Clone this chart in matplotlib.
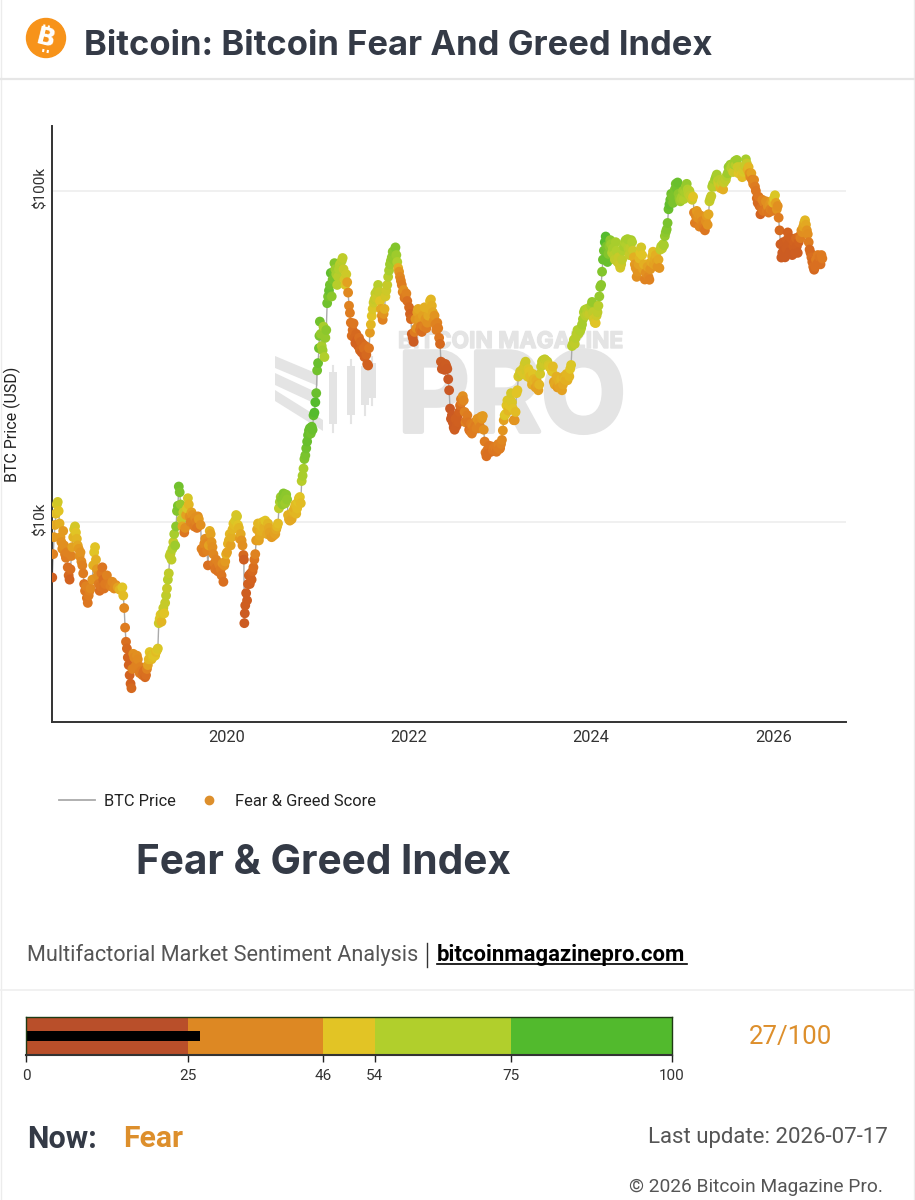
import matplotlib
matplotlib.use("Agg")
import matplotlib.pyplot as plt
import matplotlib.patheffects as pe
from matplotlib.colors import LinearSegmentedColormap
from matplotlib.patches import Circle, Polygon, Rectangle
from matplotlib.transforms import ScaledTranslation

plt.rcParams['font.family'] = ['Roboto', 'DejaVu Sans']

# date (decimal year), BTC price (USD), fear & greed score
dates_2018 = [2018.08, 2018.09, 2018.10, 2018.11, 2018.12, 2018.13, 2018.14, 2018.15, 2018.16, 2018.17,
              2018.18, 2018.19, 2018.20, 2018.21, 2018.22, 2018.23, 2018.24, 2018.25, 2018.26, 2018.27,
              2018.28, 2018.29, 2018.30, 2018.31, 2018.32, 2018.33, 2018.34, 2018.35, 2018.36, 2018.37,
              2018.38, 2018.39, 2018.40, 2018.41, 2018.42, 2018.43, 2018.44, 2018.45, 2018.46, 2018.47,
              2018.48, 2018.49, 2018.50, 2018.52, 2018.53, 2018.54, 2018.55, 2018.56, 2018.57, 2018.58,
              2018.59, 2018.60, 2018.61, 2018.62, 2018.63, 2018.64, 2018.65, 2018.66, 2018.68, 2018.70,
              2018.72, 2018.74, 2018.76, 2018.78, 2018.80, 2018.82, 2018.85, 2018.86, 2018.87, 2018.88,
              2018.89, 2018.90, 2018.91, 2018.92, 2018.93, 2018.94, 2018.95, 2018.96, 2018.97, 2018.98]
prices_2018 = [6800, 8000, 9000, 9800, 10600, 11300, 11500, 10800, 9900, 9000,
               8700, 8300, 9400, 8500, 8000, 7800, 8100, 7300, 6900, 6700,
               7200, 7900, 8400, 9000, 9500, 9700, 9300, 8900, 8500, 8300,
               7900, 8100, 7600, 7400, 7000, 6500, 6200, 6400, 5900, 5700,
               6000, 6200, 6300, 6700, 7400, 8100, 8400, 7700, 7200, 6900,
               6500, 6200, 6400, 7000, 7300, 6700, 6300, 6500, 6900, 6500,
               6400, 6600, 6300, 6450, 6350, 6250, 6350, 6000, 5500, 4800,
               4350, 4150, 3900, 3700, 3450, 3250, 3150, 3600, 4000, 3900]
scores_2018 = [18, 30, 38, 42, 48, 52, 55, 50, 44, 38,
               35, 33, 38, 34, 30, 28, 30, 24, 22, 20,
               24, 30, 40, 45, 52, 54, 50, 46, 42, 38,
               34, 36, 33, 30, 28, 25, 26, 30, 26, 26,
               28, 29, 32, 36, 44, 50, 50, 44, 38, 34,
               28, 24, 26, 27, 26, 24, 25, 27, 30, 28,
               30, 33, 33, 34, 40, 45, 50, 48, 32, 28,
               24, 22, 21, 20, 20, 20, 22, 30, 34, 32]

dates_2019 = [2019.00, 2019.01, 2019.02, 2019.03, 2019.04, 2019.05, 2019.06, 2019.07, 2019.08, 2019.09,
              2019.10, 2019.11, 2019.12, 2019.13, 2019.14, 2019.15, 2019.16, 2019.17, 2019.18, 2019.19,
              2019.20, 2019.21, 2019.22, 2019.23, 2019.24, 2019.25, 2019.26, 2019.27, 2019.28, 2019.29,
              2019.30, 2019.31, 2019.32, 2019.33, 2019.34, 2019.35, 2019.36, 2019.37, 2019.38, 2019.39,
              2019.40, 2019.41, 2019.42, 2019.43, 2019.44, 2019.45, 2019.46, 2019.47, 2019.48, 2019.49,
              2019.50, 2019.51, 2019.52, 2019.53, 2019.54, 2019.55, 2019.56, 2019.57, 2019.58, 2019.59,
              2019.60, 2019.61, 2019.62, 2019.63, 2019.64, 2019.65, 2019.66, 2019.67, 2019.68, 2019.69,
              2019.71, 2019.72, 2019.74, 2019.75, 2019.76, 2019.77, 2019.78, 2019.79, 2019.80, 2019.81,
              2019.82, 2019.83, 2019.84, 2019.85, 2019.86, 2019.87, 2019.88, 2019.89, 2019.90, 2019.91,
              2019.92, 2019.93, 2019.94, 2019.95, 2019.96, 2019.97, 2019.98, 2019.99]
prices_2019 = [3700, 3950, 3850, 3600, 3500, 3650, 3550, 3450, 3500, 3550,
               3400, 3450, 3600, 3700, 3850, 4050, 3950, 3850, 3900, 3950,
               4000, 3950, 4050, 4100, 4150, 4950, 5100, 5250, 5000, 5300,
               5500, 5300, 5700, 6000, 6300, 6700, 7000, 7900, 8050, 7700,
               8300, 8700, 9200, 8500, 9700, 10800, 11200, 12800, 12300, 11300,
               10200, 9700, 10700, 9300, 9600, 10500, 11000, 11800, 11300, 10400,
               10000, 10700, 10500, 10100, 9700, 10300, 10000, 9600, 10400, 10200,
               9800, 8300, 8100, 8600, 8900, 8600, 8200, 7400, 8500, 9400,
               9200, 8700, 8400, 8000, 7500, 7200, 7700, 7300, 7100, 7500,
               7400, 7200, 6900, 7500, 6600, 7400, 7600, 8000]
scores_2019 = [30, 34, 33, 30, 28, 30, 28, 26, 24, 24,
               22, 24, 30, 40, 46, 50, 48, 46, 48, 50,
               52, 50, 48, 50, 52, 56, 52, 50, 46, 54,
               58, 50, 58, 60, 58, 62, 60, 62, 60, 60,
               64, 58, 66, 68, 72, 74, 76, 78, 76, 70,
               58, 42, 58, 26, 34, 40, 52, 54, 46, 34,
               30, 40, 36, 30, 28, 34, 30, 26, 34, 38,
               34, 30, 28, 32, 34, 32, 30, 24, 40, 44,
               40, 36, 34, 32, 28, 26, 30, 26, 25, 30,
               30, 28, 26, 36, 24, 34, 38, 44]

dates_2020 = [2020.00, 2020.01, 2020.02, 2020.03, 2020.04, 2020.05, 2020.06, 2020.07, 2020.08, 2020.09,
              2020.10, 2020.11, 2020.12, 2020.13, 2020.14, 2020.15, 2020.16, 2020.17, 2020.18, 2020.185,
              2020.19, 2020.195, 2020.20, 2020.21, 2020.22, 2020.23, 2020.24, 2020.25, 2020.26, 2020.27,
              2020.28, 2020.29, 2020.30, 2020.31, 2020.32, 2020.33, 2020.34, 2020.35, 2020.36, 2020.37,
              2020.38, 2020.39, 2020.40, 2020.41, 2020.42, 2020.43, 2020.44, 2020.45, 2020.46, 2020.47,
              2020.48, 2020.49, 2020.50, 2020.51, 2020.52, 2020.53, 2020.54, 2020.55, 2020.56, 2020.57,
              2020.58, 2020.59, 2020.60, 2020.61, 2020.62, 2020.63, 2020.64, 2020.65, 2020.66, 2020.67,
              2020.68, 2020.69, 2020.70, 2020.71, 2020.72, 2020.73, 2020.74, 2020.75, 2020.76, 2020.77,
              2020.78, 2020.79, 2020.80, 2020.81, 2020.82, 2020.83, 2020.84, 2020.85, 2020.86, 2020.87,
              2020.88, 2020.89, 2020.90, 2020.91, 2020.92, 2020.93, 2020.94, 2020.95, 2020.96, 2020.97,
              2020.98, 2020.99]
prices_2020 = [8100, 8600, 8800, 9200, 8500, 9000, 9500, 9900, 9800, 10100,
               10500, 10400, 9800, 9600, 8900, 9200, 8800, 8500, 7950, 7700,
               4950, 5300, 5600, 6100, 5800, 6500, 6900, 6500, 7000, 6700,
               7100, 7300, 7700, 8000, 8800, 9500, 9900, 8800, 9100, 9400,
               9700, 10000, 9800, 9600, 10100, 9500, 9200, 9900, 9600, 9300,
               9100, 9000, 9200, 9100, 9300, 9200, 9500, 9700, 9900, 11000,
               11500, 11900, 11700, 11300, 12200, 11800, 11400, 12100, 11700, 10500,
               10200, 10100, 10500, 10200, 10700, 10800, 11000, 11300, 10600, 11000,
               11500, 11800, 11900, 11400, 13300, 13800, 14500, 15500, 15900, 16700,
               17500, 18300, 18900, 19200, 18500, 19400, 19000, 21000, 21400, 23000,
               24500, 28700]
scores_2020 = [40, 44, 44, 46, 40, 44, 46, 50, 48, 52,
               52, 54, 50, 46, 38, 42, 36, 34, 22, 16,
               14, 14, 16, 16, 16, 18, 18, 18, 20, 20,
               22, 24, 26, 30, 38, 42, 46, 40, 42, 44,
               46, 48, 46, 44, 50, 44, 42, 46, 42, 40,
               40, 38, 40, 38, 40, 40, 42, 46, 48, 60,
               66, 68, 72, 70, 74, 72, 68, 72, 70, 44,
               44, 42, 44, 42, 44, 46, 44, 48, 46, 48,
               50, 48, 50, 48, 62, 66, 66, 74, 76, 78,
               80, 80, 80, 80, 78, 80, 80, 82, 84, 84,
               80, 78]

dates_2021 = [2021.00, 2021.01, 2021.015, 2021.02, 2021.03, 2021.04, 2021.05, 2021.06, 2021.07, 2021.08,
              2021.09, 2021.10, 2021.11, 2021.12, 2021.13, 2021.14, 2021.15, 2021.16, 2021.17, 2021.18,
              2021.19, 2021.20, 2021.21, 2021.22, 2021.23, 2021.24, 2021.25, 2021.26, 2021.27, 2021.28,
              2021.29, 2021.30, 2021.31, 2021.32, 2021.33, 2021.34, 2021.35, 2021.36, 2021.37, 2021.38,
              2021.39, 2021.40, 2021.41, 2021.42, 2021.43, 2021.44, 2021.45, 2021.46, 2021.47, 2021.48,
              2021.49, 2021.50, 2021.51, 2021.52, 2021.53, 2021.54, 2021.55, 2021.56, 2021.57, 2021.58,
              2021.59, 2021.60, 2021.61, 2021.62, 2021.63, 2021.64, 2021.65, 2021.66, 2021.67, 2021.68,
              2021.69, 2021.70, 2021.71, 2021.72, 2021.73, 2021.74, 2021.75, 2021.76, 2021.77, 2021.78,
              2021.79, 2021.80, 2021.81, 2021.82, 2021.83, 2021.84, 2021.85, 2021.86, 2021.87, 2021.88,
              2021.89, 2021.90, 2021.91, 2021.92, 2021.93, 2021.94, 2021.95, 2021.96, 2021.97, 2021.98]
prices_2021 = [30200, 33500, 36500, 40300, 37000, 34000, 33000, 38900, 31500, 36000,
               38000, 45800, 48000, 50000, 52000, 56500, 48000, 54000, 57000, 60500,
               58000, 56000, 52000, 55000, 58000, 60000, 59000, 61500, 62700, 58000,
               54000, 52000, 56000, 53000, 49300, 45000, 42800, 40000, 36500, 38000,
               39800, 36000, 34700, 37000, 35500, 34000, 36000, 33000, 35000, 32500,
               34500, 33500, 31500, 34000, 32000, 30000, 29700, 33500, 37300, 39500,
               41900, 44000, 46000, 47000, 49000, 47500, 50000, 52000, 49500, 46500,
               44000, 42000, 40800, 42500, 44000, 48000, 50000, 52000, 55000, 57500,
               60000, 61500, 63000, 65500, 62000, 66000, 67500, 64000, 61000, 58500,
               57000, 55000, 53500, 52000, 49500, 50200, 47500, 48000, 49000, 46500]
scores_2021 = [80, 78, 76, 78, 70, 66, 68, 66, 64, 70,
               72, 78, 76, 80, 78, 82, 72, 76, 78, 74,
               68, 66, 62, 62, 64, 62, 64, 62, 60, 58,
               54, 52, 56, 40, 32, 30, 28, 26, 24, 24,
               26, 22, 20, 22, 20, 20, 24, 22, 22, 20,
               22, 24, 20, 24, 22, 20, 18, 26, 38, 46,
               50, 52, 56, 58, 60, 56, 60, 62, 58, 50,
               42, 34, 30, 36, 44, 54, 56, 58, 62, 66,
               68, 68, 70, 72, 70, 72, 74, 68, 64, 44,
               36, 32, 30, 28, 30, 34, 26, 28, 30, 24]

dates_2022 = [2022.00, 2022.01, 2022.02, 2022.03, 2022.04, 2022.05, 2022.06, 2022.07, 2022.08, 2022.09,
              2022.10, 2022.11, 2022.12, 2022.13, 2022.14, 2022.15, 2022.16, 2022.17, 2022.18, 2022.19,
              2022.20, 2022.21, 2022.22, 2022.23, 2022.24, 2022.25, 2022.26, 2022.27, 2022.28, 2022.29,
              2022.30, 2022.31, 2022.32, 2022.33, 2022.34, 2022.35, 2022.36, 2022.37, 2022.38, 2022.39,
              2022.40, 2022.41, 2022.42, 2022.43, 2022.44, 2022.45, 2022.46, 2022.47, 2022.48, 2022.49,
              2022.50, 2022.51, 2022.52, 2022.53, 2022.54, 2022.55, 2022.56, 2022.57, 2022.58, 2022.59,
              2022.60, 2022.61, 2022.62, 2022.63, 2022.64, 2022.65, 2022.66, 2022.67, 2022.68, 2022.69,
              2022.70, 2022.71, 2022.72, 2022.73, 2022.74, 2022.75, 2022.76, 2022.77, 2022.78, 2022.79,
              2022.80, 2022.81, 2022.82, 2022.83, 2022.84, 2022.85, 2022.86, 2022.87, 2022.88, 2022.89,
              2022.90, 2022.91, 2022.92, 2022.93, 2022.94, 2022.95, 2022.96, 2022.97, 2022.98, 2022.99]
prices_2022 = [44500, 42500, 41000, 37000, 36000, 35000, 37500, 41000, 38500, 43000,
               44000, 41000, 38000, 39000, 37500, 42000, 39000, 44500, 41000, 38500,
               40000, 42000, 44000, 46500, 47000, 45000, 43000, 40500, 42000, 39500,
               38000, 40000, 38500, 36000, 34500, 30500, 29000, 30200, 29500, 28800,
               30000, 29500, 29000, 27000, 25000, 22000, 20500, 21000, 20000, 19300,
               19000, 20500, 19500, 20800, 20000, 21500, 22500, 23500, 23000, 24000,
               23300, 21500, 20000, 20300, 21000, 20000, 19000, 18800, 19800, 18500,
               19500, 19000, 20000, 19500, 19200, 20500, 19200, 20000, 19400, 20800,
               20500, 20900, 19000, 17500, 16200, 15800, 16500, 16200, 17000, 16800,
               16300, 16900, 16500, 16800, 16400, 16700, 16300, 16800, 17200, 16600]
scores_2022 = [22, 20, 22, 18, 16, 14, 28, 36, 34, 40,
               42, 38, 26, 28, 24, 40, 30, 44, 36, 28,
               34, 42, 44, 48, 46, 44, 42, 34, 36, 30,
               28, 30, 28, 26, 22, 14, 12, 14, 12, 12,
               14, 14, 12, 10, 10, 10, 12, 12, 14, 14,
               16, 18, 16, 18, 18, 20, 24, 28, 28, 34,
               32, 30, 30, 26, 28, 26, 24, 26, 28, 28,
               30, 28, 30, 28, 30, 36, 30, 34, 30, 36,
               36, 38, 34, 28, 26, 24, 26, 24, 26, 26,
               24, 26, 26, 28, 26, 28, 26, 28, 30, 28]

dates_2023 = [2023.00, 2023.01, 2023.02, 2023.03, 2023.04, 2023.05, 2023.06, 2023.07, 2023.08, 2023.09,
              2023.10, 2023.11, 2023.12, 2023.13, 2023.14, 2023.15, 2023.16, 2023.17, 2023.18, 2023.19,
              2023.20, 2023.21, 2023.22, 2023.23, 2023.24, 2023.25, 2023.26, 2023.27, 2023.28, 2023.29,
              2023.30, 2023.31, 2023.32, 2023.33, 2023.34, 2023.35, 2023.36, 2023.37, 2023.38, 2023.39,
              2023.40, 2023.41, 2023.42, 2023.43, 2023.44, 2023.45, 2023.46, 2023.47, 2023.48, 2023.49,
              2023.50, 2023.51, 2023.52, 2023.53, 2023.54, 2023.55, 2023.56, 2023.57, 2023.58, 2023.59,
              2023.60, 2023.61, 2023.62, 2023.63, 2023.64, 2023.65, 2023.66, 2023.67, 2023.68, 2023.69,
              2023.70, 2023.71, 2023.72, 2023.73, 2023.74, 2023.75, 2023.76, 2023.77, 2023.78, 2023.79,
              2023.80, 2023.81, 2023.82, 2023.83, 2023.84, 2023.85, 2023.86, 2023.87, 2023.88, 2023.89,
              2023.90, 2023.91, 2023.92, 2023.93, 2023.94, 2023.95, 2023.96, 2023.97, 2023.98, 2023.99]
prices_2023 = [16700, 17200, 17700, 18900, 20300, 21000, 21200, 22500, 23300, 21700,
               22500, 23500, 24500, 23000, 22000, 20300, 20300, 21500, 24500, 25000,
               27500, 27800, 28500, 28000, 28500, 29000, 28000, 30000, 30500, 28500,
               27500, 29000, 28500, 27500, 27000, 26000, 28000, 27000, 26500, 25500,
               26800, 26000, 25000, 26000, 28000, 29500, 30500, 30800, 30000, 31000,
               30800, 30000, 30500, 29800, 29500, 29300, 29000, 28500, 29500, 26500,
               26000, 26500, 27500, 25500, 25800, 26500, 25500, 27000, 25000, 26000,
               27500, 27000, 26800, 28000, 26800, 28000, 27500, 29000, 29800, 34000,
               34500, 35500, 34500, 36000, 37000, 38000, 37000, 37500, 37800, 38500,
               39500, 41000, 43000, 43700, 42000, 44000, 42500, 43500, 42500, 44500]
scores_2023 = [28, 30, 32, 36, 40, 52, 50, 50, 52, 46,
               50, 52, 54, 52, 50, 34, 36, 48, 50, 50,
               52, 54, 54, 56, 52, 54, 52, 54, 56, 54,
               52, 52, 50, 48, 48, 44, 50, 46, 46, 40,
               44, 42, 40, 46, 54, 58, 60, 58, 56, 60,
               58, 56, 58, 54, 52, 52, 50, 50, 48, 40,
               42, 42, 44, 38, 40, 44, 40, 46, 40, 42,
               44, 46, 44, 46, 44, 46, 46, 50, 52, 62,
               62, 62, 60, 62, 62, 64, 62, 62, 64, 64,
               66, 66, 64, 66, 62, 64, 60, 62, 58, 62]

dates_2024 = [2024.00, 2024.01, 2024.02, 2024.03, 2024.04, 2024.05, 2024.06, 2024.07, 2024.08, 2024.09,
              2024.10, 2024.11, 2024.12, 2024.13, 2024.14, 2024.15, 2024.16, 2024.17, 2024.18, 2024.19,
              2024.20, 2024.21, 2024.22, 2024.23, 2024.24, 2024.25, 2024.26, 2024.27, 2024.28, 2024.29,
              2024.30, 2024.31, 2024.32, 2024.33, 2024.34, 2024.35, 2024.36, 2024.37, 2024.38, 2024.39,
              2024.40, 2024.41, 2024.42, 2024.43, 2024.44, 2024.45, 2024.46, 2024.47, 2024.48, 2024.49,
              2024.50, 2024.51, 2024.52, 2024.53, 2024.54, 2024.55, 2024.56, 2024.57, 2024.58, 2024.59,
              2024.60, 2024.61, 2024.62, 2024.63, 2024.64, 2024.65, 2024.66, 2024.67, 2024.68, 2024.69,
              2024.70, 2024.71, 2024.72, 2024.73, 2024.74, 2024.75, 2024.76, 2024.77, 2024.78, 2024.79,
              2024.80, 2024.81, 2024.82, 2024.83, 2024.84, 2024.85, 2024.86, 2024.87, 2024.88, 2024.89,
              2024.90, 2024.91, 2024.92, 2024.93, 2024.94, 2024.95, 2024.96, 2024.97, 2024.98, 2024.99]
prices_2024 = [45000, 46200, 43000, 41000, 40000, 39900, 42000, 43000, 45000, 48000,
               51300, 52000, 57000, 62000, 66000, 70000, 72800, 68000, 61000, 64500,
               68000, 71000, 69000, 65000, 67000, 64000, 62000, 70000, 66000, 61000,
               63000, 60000, 58600, 60000, 62000, 66000, 68000, 70000, 71000, 69000,
               71500, 67000, 64000, 67000, 71000, 70000, 66000, 63000, 60000, 58500,
               55000, 57000, 60000, 62500, 65000, 67500, 64000, 58000, 60000, 54000,
               56500, 60000, 59000, 55000, 53900, 58000, 61000, 63500, 65500, 60000,
               62000, 64000, 61000, 59000, 62000, 58500, 66500, 68000, 67000, 69000,
               68500, 73000, 75000, 76500, 80000, 88000, 91000, 94000, 98000, 96000,
               92000, 97000, 101000, 105000, 102000, 106000, 98000, 95000, 93000, 94500]
scores_2024 = [66, 70, 60, 54, 52, 50, 56, 60, 62, 70,
               72, 72, 74, 80, 78, 84, 84, 76, 80, 74,
               72, 72, 68, 64, 66, 62, 60, 66, 64, 58,
               58, 56, 54, 56, 60, 64, 66, 64, 66, 64,
               66, 62, 58, 60, 66, 64, 56, 44, 38, 36,
               34, 36, 40, 46, 50, 54, 50, 40, 44, 30,
               34, 44, 40, 32, 30, 36, 42, 46, 48, 40,
               42, 44, 40, 36, 42, 36, 60, 62, 60, 64,
               66, 70, 72, 74, 76, 80, 82, 80, 78, 76,
               76, 76, 76, 78, 78, 80, 72, 70, 68, 66]

dates_2025 = [2025.00, 2025.01, 2025.02, 2025.03, 2025.04, 2025.05, 2025.06, 2025.07, 2025.08, 2025.09,
              2025.10, 2025.11, 2025.12, 2025.13, 2025.14, 2025.15, 2025.16, 2025.17, 2025.18, 2025.19,
              2025.20, 2025.21, 2025.22, 2025.23, 2025.24, 2025.25, 2025.26, 2025.27, 2025.28, 2025.29,
              2025.30, 2025.31, 2025.32, 2025.33, 2025.34, 2025.35, 2025.36, 2025.37, 2025.38, 2025.39,
              2025.40, 2025.41, 2025.42, 2025.43, 2025.44, 2025.45, 2025.46, 2025.47, 2025.48, 2025.49,
              2025.50, 2025.51, 2025.52, 2025.53, 2025.54, 2025.55, 2025.56, 2025.57, 2025.58, 2025.59,
              2025.60, 2025.61, 2025.62, 2025.63, 2025.64, 2025.65, 2025.66, 2025.67, 2025.68, 2025.69,
              2025.70, 2025.71, 2025.72, 2025.73, 2025.74, 2025.75, 2025.76, 2025.77, 2025.78, 2025.79,
              2025.80, 2025.81, 2025.82, 2025.83, 2025.84, 2025.85, 2025.86, 2025.87, 2025.88, 2025.89,
              2025.90, 2025.91, 2025.92, 2025.93, 2025.94, 2025.95, 2025.96, 2025.97, 2025.98, 2025.99]
prices_2025 = [96000, 100000, 94500, 99000, 103000, 105000, 101000, 98000, 100000, 96500,
               97000, 94000, 96000, 86000, 80000, 84000, 87000, 83000, 85000, 78000,
               82000, 84000, 81000, 79000, 77000, 76000, 81000, 84000, 79000, 85000,
               93000, 95000, 96500, 103000, 105000, 103000, 108000, 110000, 112000, 107000,
               105000, 108000, 102000, 105000, 107000, 101000, 106000, 109000, 108000, 111000,
               113000, 118000, 116000, 120000, 117000, 119000, 114000, 120000, 123000, 120000,
               124000, 118000, 113000, 116000, 118000, 112000, 110000, 114000, 116000, 119000,
               124500, 121000, 116000, 118000, 113000, 110000, 113000, 108000, 105000, 108000,
               103000, 100000, 95000, 92000, 96000, 90000, 85000, 89000, 94000, 87000,
               92000, 88000, 93000, 87000, 90000, 86000, 91000, 88000, 93000, 87000]
scores_2025 = [66, 68, 64, 66, 70, 70, 64, 62, 62, 58,
               60, 56, 50, 30, 28, 32, 38, 34, 36, 30,
               34, 36, 32, 30, 28, 26, 34, 38, 36, 42,
               58, 60, 58, 64, 66, 62, 66, 68, 66, 60,
               56, 62, 46, 56, 60, 44, 58, 62, 60, 64,
               68, 70, 68, 68, 62, 64, 56, 66, 68, 62,
               68, 56, 50, 54, 56, 50, 48, 52, 54, 58,
               66, 58, 44, 46, 36, 32, 40, 30, 30, 32,
               28, 26, 24, 22, 26, 22, 20, 24, 30, 26,
               30, 26, 34, 28, 34, 26, 36, 30, 38, 28]

dates_2026 = [2026.00, 2026.01, 2026.02, 2026.03, 2026.04, 2026.05, 2026.06, 2026.07, 2026.08, 2026.09,
              2026.10, 2026.11, 2026.12, 2026.13, 2026.14, 2026.15, 2026.16, 2026.17, 2026.18, 2026.19,
              2026.20, 2026.21, 2026.22, 2026.23, 2026.24, 2026.25, 2026.26, 2026.27, 2026.28, 2026.29,
              2026.30, 2026.31, 2026.32, 2026.33, 2026.34, 2026.35, 2026.36, 2026.37, 2026.38, 2026.39,
              2026.40, 2026.41, 2026.42, 2026.43, 2026.44, 2026.45, 2026.46, 2026.47, 2026.48, 2026.49,
              2026.50, 2026.51, 2026.52, 2026.53, 2026.54]
prices_2026 = [92000, 95000, 97000, 92000, 88000, 90000, 83000, 76000, 69000, 62900,
               65000, 70000, 66000, 63000, 67000, 71000, 74900, 69000, 65000, 72000,
               66000, 64000, 68000, 70000, 65000, 72000, 68000, 65000, 70000, 73000,
               72000, 76000, 75000, 78000, 80000, 81500, 79000, 76000, 74000, 70000,
               66500, 65000, 63000, 61000, 59000, 57800, 59000, 62000, 60000, 64000,
               61000, 63000, 60000, 64000, 62500]
scores_2026 = [44, 50, 52, 40, 36, 34, 28, 22, 16, 14,
               14, 16, 14, 14, 16, 18, 20, 16, 14, 18,
               14, 14, 18, 20, 16, 22, 18, 16, 20, 24,
               28, 36, 34, 40, 42, 46, 42, 36, 34, 28,
               22, 22, 24, 22, 24, 22, 24, 28, 24, 28,
               24, 26, 24, 27, 27]

year_ticks = [2020, 2022, 2024, 2026]
price_ticks = [10000, 100000]
price_tick_labels = ["$10k", "$100k"]

gauge_edges = [0, 25, 46, 54, 75, 100]
gauge_colors = ["#b94f2a", "#dd8823", "#e2c425", "#b1cf2c", "#52ba2d"]
current_score = 27

WIDTH, HEIGHT = 915, 1200
DARK = "#343a46"
ORANGE = "#dd8f2c"
WATERMARK = "#e4e4e4"


def px_axes(fig, left, top, right, bottom):
    # axes placed by pixel box, y counted from the top
    return fig.add_axes([left / WIDTH, 1 - bottom / HEIGHT, (right - left) / WIDTH, (bottom - top) / HEIGHT])


def draw_page(ax):
    ax.set_xlim(0, WIDTH)
    ax.set_ylim(HEIGHT, 0)
    ax.axis("off")

    # frame and dividers
    ax.plot([1, 1], [0, 1200], color="#ececec", lw=1)
    ax.plot([914, 914], [0, 1200], color="#ececec", lw=1)
    ax.plot([0, 915], [79, 79], color="#e6e6e6", lw=1.6)
    ax.plot([0, 915], [990, 990], color="#efefef", lw=1.2)

    # header
    ax.add_patch(Circle((46, 38), 19.5, color="#f7931a"))
    ax.text(46, 38.5, "B", color="white", fontsize=18, fontweight="bold",
            rotation=-14, ha="center", va="center", family="DejaVu Sans")
    for x0, y0, x1, y1 in [(44.5, 24.5, 44, 27), (49, 25.5, 48.5, 28), (43.5, 49, 43, 52), (48, 50, 47.5, 53)]:
        ax.plot([x0, x1], [y0, y1], color="white", lw=1.5, solid_capstyle="butt")
    ax.text(84, 46, "Bitcoin: Bitcoin Fear And Greed Index", color=DARK, fontsize=24.9,
            fontweight="bold", family="Inter", ha="left", va="center")

    # watermark
    stripes = [[(275, 356), (318, 374), (318, 386), (275, 368)],
               [(275, 373), (318, 393), (318, 405), (275, 385)],
               [(275, 390), (323, 420), (323, 431), (275, 401)]]
    for stripe in stripes:
        ax.add_patch(Polygon(stripe, color=WATERMARK, lw=0))
    # candles of the logo: x, wick top, body top, body bottom, wick bottom
    for x, wick_top, top, bottom, wick_bottom in [(333, 366, 372, 424, 432), (351, 360, 366, 415, 423),
                                                  (365, 361, 366, 405, 415), (372, 357, 363, 398, 405)]:
        ax.plot([x, x], [wick_top, wick_bottom], color=WATERMARK, lw=1.5)
        ax.add_patch(Rectangle((x - 4, top), 8, bottom - top, color=WATERMARK, lw=0))
    ax.text(398, 342, "BITCOIN MAGAZINE", color=WATERMARK, fontsize=16.4, fontweight="bold",
            family="Inter", ha="left", va="center",
            path_effects=[pe.withStroke(linewidth=1, foreground=WATERMARK)])
    ax.text(398, 403, "PRO", color=WATERMARK, fontsize=79, fontweight="bold",
            family="Inter", ha="left", va="center",
            path_effects=[pe.withStroke(linewidth=3.5, foreground=WATERMARK)])

    # legend
    ax.plot([59, 95], [800, 800], color="#aaaaaa", lw=1.3)
    ax.text(104, 801, "BTC Price", color="#222222", fontsize=11.8, ha="left", va="center")
    ax.plot([209], [800], marker="o", ms=6, color="#dd8f2c", lw=0)
    ax.text(235, 801, "Fear & Greed Score", color="#222222", fontsize=11.9, ha="left", va="center")

    # titles
    ax.text(136, 863, "Fear & Greed Index", color=DARK, fontsize=29.2, fontweight="bold",
            family="Inter", ha="left", va="center")
    ax.text(27, 955, "Multifactorial Market Sentiment Analysis", color="#555555", fontsize=15.6,
            ha="left", va="center")
    ax.plot([427, 427], [943, 967], color="#333333", lw=1)
    ax.text(437, 955, "bitcoinmagazinepro.com", color="black", fontsize=15.9, fontweight="bold",
            ha="left", va="center")
    ax.plot([437, 687], [963.5, 963.5], color="black", lw=1.2)

    # readouts
    ax.text(749, 1037, "27/100", color=ORANGE, fontsize=18.6, ha="left", va="center")
    ax.text(27, 1139, "Now:", color=DARK, fontsize=22, fontweight="bold", ha="left", va="center")
    ax.text(123, 1139, "Fear", color=ORANGE, fontsize=21.7, fontweight="bold", ha="left", va="center")
    ax.text(888, 1137, "Last update: 2026-07-17", color="#555555", fontsize=16, ha="right", va="center")
    ax.text(883, 1187, "© 2026 Bitcoin Magazine Pro.", color="#555555", fontsize=13.8, ha="right", va="center")


def draw_chart(ax):
    dates = dates_2018 + dates_2019 + dates_2020 + dates_2021 + dates_2022 + dates_2023 + dates_2024 + dates_2025 + dates_2026
    prices = prices_2018 + prices_2019 + prices_2020 + prices_2021 + prices_2022 + prices_2023 + prices_2024 + prices_2025 + prices_2026
    scores = scores_2018 + scores_2019 + scores_2020 + scores_2021 + scores_2022 + scores_2023 + scores_2024 + scores_2025 + scores_2026

    score_cmap = LinearSegmentedColormap.from_list(
        "fear_greed",
        [(0, "#c04f28"), (0.2, "#d2621f"), (0.27, "#de7a20"), (0.38, "#e39a20"), (0.5, "#e2c425"),
         (0.64, "#b1cf2c"), (0.85, "#52ba2d"), (1, "#45b82a")])

    ax.set_facecolor("none")
    ax.set_yscale("log")
    ax.set_xlim(2018.077, 2026.80)
    ax.set_ylim(2490, 157000)
    ax.plot(dates, prices, color="#aaaaaa", lw=1, zorder=2)
    ax.scatter(dates, prices, c=scores, cmap=score_cmap, vmin=0, vmax=100, s=50, linewidths=0, zorder=3)

    ax.set_xticks(year_ticks)
    ax.set_xticklabels([str(y) for y in year_ticks], fontsize=11.8, color="#333333")
    ax.set_yticks(price_ticks)
    ax.set_yticklabels(price_tick_labels, rotation=90, va="center", fontsize=11, color="#333333")
    ax.minorticks_off()
    ax.tick_params(axis="x", length=0, pad=6)
    ax.tick_params(axis="y", length=0, pad=3)
    # the rotated price labels sit a little above their gridlines
    shift = ScaledTranslation(0, 3 / 100, ax.figure.dpi_scale_trans)
    for label in ax.get_yticklabels():
        label.set_transform(label.get_transform() + shift)
    ax.grid(axis="y", color="#eeeeee", lw=1.2, zorder=0)
    ax.set_axisbelow(True)
    for side in ["top", "right"]:
        ax.spines[side].set_visible(False)
    for side in ["left", "bottom"]:
        ax.spines[side].set_color("#333333")
        ax.spines[side].set_linewidth(1.4)
    ax.set_ylabel("BTC Price (USD)", fontsize=11.5, color="#222222", va="center")
    ax.yaxis.set_label_coords(-40 / 794, 0.5)


def draw_gauge(ax):
    ax.set_xlim(0, 100)
    ax.set_ylim(0, 1)
    for left, right, color in zip(gauge_edges[:-1], gauge_edges[1:], gauge_colors):
        ax.barh(0.5, right - left, height=1, left=left, color=color, lw=0)
    ax.barh(0.5, current_score, height=0.26, color="black", lw=0)
    ax.set_xticks(gauge_edges)
    ax.set_yticks([])
    ax.tick_params(axis="x", length=5, width=1, pad=5, labelsize=11, labelcolor="#333333", color="#222222")
    for side in ax.spines:
        ax.spines[side].set_color("#1e3a14")
        ax.spines[side].set_linewidth(1)
    ax.spines["bottom"].set_color("#333333")
    ax.spines["bottom"].set_linewidth(1.5)


fig = plt.figure(figsize=(WIDTH / 100, HEIGHT / 100), dpi=100, facecolor="white")

page_ax = fig.add_axes([0, 0, 1, 1], zorder=0)
draw_page(page_ax)

chart_ax = px_axes(fig, 52, 126, 846, 722)
chart_ax.set_zorder(1)
draw_chart(chart_ax)

gauge_ax = px_axes(fig, 26, 1017, 672, 1055)
gauge_ax.set_zorder(1)
draw_gauge(gauge_ax)

fig.savefig("out.png", dpi=100)
